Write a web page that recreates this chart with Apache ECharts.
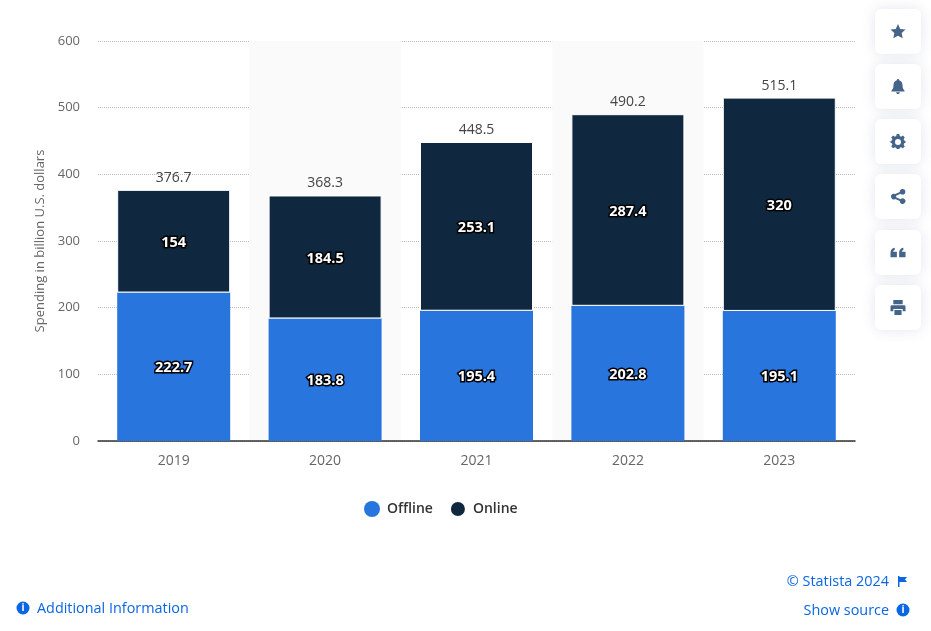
<!DOCTYPE html>
<html>
<head>
    <meta charset="utf-8">
    <script src="https://cdn.jsdelivr.net/npm/echarts@6/dist/echarts.min.js"></script>
    <style>
        html, body { margin: 0; padding: 0; background: #fff; }
        #container { width: 931px; height: 631px; }
    </style>
</head>
<body>
<div id="container"></div>
<script>
    var years = ['2019', '2020', '2021', '2022', '2023'];
    var offline = [222.7, 183.8, 195.4, 202.8, 195.1];
    var online = [154, 184.5, 253.1, 287.4, 320];
    var totals = [376.7, 368.3, 448.5, 490.2, 515.1];
    var yTicks = [0, 100, 200, 300, 400, 500, 600];

    var iconColor = '#45648a';
    var linkColor = '#0b66e4';
    var buttonTops = [9, 64, 119, 174, 230, 285];
    // icons drawn in a 16x16 box
    var icons = [
        'M8 0L10.4 5.2L16 5.9L11.9 9.7L13 15.3L8 12.5L3 15.3L4.1 9.7L0 5.9L5.6 5.2Z',
        'M8 0C8.7 0 9.2.5 9.2 1.2C11.6 1.8 12.8 3.8 12.8 6.4C12.8 9.6 13.6 11 15 12.4V13.2H1V12.4C2.4 11 3.2 9.6 3.2 6.4C3.2 3.8 4.4 1.8 6.8 1.2C6.8.5 7.3 0 8 0ZM6 14H10C10 15.2 9.1 16 8 16C6.9 16 6 15.2 6 14Z',
        'M6.6 0H9.4L9.9 2.2L11.3 2.8L13.3 1.6L15.2 3.6L14 5.5L14.6 7L16 7.4V9.4L14.6 9.9L14 11.3L15.2 13.3L13.2 15.2L11.3 14L9.9 14.6L9.4 16H6.6L6.1 14.6L4.7 14L2.7 15.2L.8 13.2L2 11.3L1.4 9.9L0 9.4V7.4L1.4 7L2 5.5L.8 3.6L2.8 1.6L4.7 2.8L6.1 2.2ZM8 5.2A3.2 3.2 0 1 0 8 11.6A3.2 3.2 0 1 0 8 5.2Z',
        'M12.8 0A3 3 0 1 1 10.7 5.1L6 7.3A3 3 0 0 1 6 8.7L10.7 10.9A3 3 0 1 1 9.9 12.9L5.1 10.6A3 3 0 1 1 5.1 5.4L9.9 3.1A3 3 0 0 1 12.8 0Z',
        'M0 8.5C0 5.5 1.5 3.5 4.5 3V5.2C3.4 5.5 2.9 6.2 2.8 7.2H6.8V13H0ZM9.2 8.5C9.2 5.5 10.7 3.5 13.7 3V5.2C12.6 5.5 12.1 6.2 12 7.2H16V13H9.2Z',
        'M3 0H13V4.5H3ZM1.5 5.5H14.5C15.4 5.5 16 6.1 16 7V12H13V9.5H3V12H0V7C0 6.1.6 5.5 1.5 5.5ZM4.2 10.7H11.8V16H4.2Z'
    ];
    var flagPath = 'M0 0H1.5V1H9L7 3.5L9 6H1.5V11H0Z';

    // graphic elements have no plain 'path' type, so register the icons as shapes
    icons.forEach(function (d, i) {
        echarts.graphic.registerShape('icon' + i, echarts.graphic.extendPath(d, {}));
    });
    echarts.graphic.registerShape('flag', echarts.graphic.extendPath(flagPath, {}));

    function infoIcon(cx, cy) {
        return [
            { type: 'circle', shape: { cx: cx, cy: cy, r: 6.5 }, style: { fill: linkColor } },
            { type: 'text', style: { x: cx, y: cy, text: 'i', align: 'center', verticalAlign: 'middle',
                fill: '#fff', font: 'bold 10px "Open Sans"' } }
        ];
    }

    var graphics = [];
    buttonTops.forEach(function (top, i) {
        graphics.push({
            type: 'rect',
            shape: { x: 875, y: top, width: 46, height: 45, r: 6 },
            style: { fill: '#fff', shadowBlur: 14, shadowColor: 'rgba(60,80,120,0.14)' }
        });
        graphics.push({
            type: 'icon' + i,
            x: 890.5,
            y: top + 15,
            scaleX: 15 / 16,
            scaleY: 15 / 16,
            style: { fill: iconColor }
        });
    });
    graphics.push({ type: 'text', style: { x: 889, y: 581.5, text: '© Statista 2024', align: 'right', verticalAlign: 'middle',
        fill: linkColor, font: '14.4px "Open Sans"' } });
    graphics.push({ type: 'flag', x: 898, y: 576, style: { fill: linkColor } });
    graphics.push({ type: 'text', style: { x: 889, y: 610.5, text: 'Show source', align: 'right', verticalAlign: 'middle',
        fill: linkColor, font: '14.4px "Open Sans"' } });
    graphics.push({ type: 'text', style: { x: 37, y: 608.5, text: 'Additional Information', align: 'left', verticalAlign: 'middle',
        fill: linkColor, font: '14.4px "Open Sans"' } });
    graphics = graphics.concat(infoIcon(903, 610), infoIcon(23, 608));

    var offlineLabel = {
        show: true,
        position: 'inside',
        offset: [0, 1],
        color: '#fff',
        fontFamily: 'Open Sans',
        fontSize: 14.5,
        fontWeight: 'bold',
        textBorderColor: '#000',
        textBorderWidth: 3
    };
    var onlineLabel = Object.assign({}, offlineLabel, { offset: [0, 1.5] });

    var myChart = echarts.init(document.getElementById('container'));
    var option = {
        animation: false,
        backgroundColor: '#fff',
        grid: { left: 98, right: 76, top: 41, bottom: 190 },
        legend: {
            data: ['Offline', 'Online'],
            top: 495,
            left: 359,
            icon: 'circle',
            itemWidth: 16,
            itemHeight: 16,
            itemGap: 16,
            textStyle: { color: '#333', fontFamily: 'Open Sans', fontSize: 14, fontWeight: 600, padding: [0, 0, 0, 2] }
        },
        xAxis: {
            type: 'category',
            data: years,
            axisTick: { show: false },
            axisLine: { lineStyle: { color: '#333', width: 1.5 } },
            axisLabel: { color: '#666', fontFamily: 'Open Sans', fontSize: 14, margin: 13 },
            splitArea: { show: true, areaStyle: { color: ['rgba(0,0,0,0)', '#fafafa'] } }
        },
        yAxis: {
            type: 'value',
            min: yTicks[0],
            max: yTicks[yTicks.length - 1],
            interval: 100,
            name: 'Spending in billion U.S. dollars',
            nameLocation: 'middle',
            nameGap: 51,
            nameTextStyle: { color: '#666', fontFamily: 'Open Sans', fontSize: 13 },
            axisLine: { show: false },
            axisTick: { show: false },
            axisLabel: { color: '#666', fontFamily: 'Open Sans', fontSize: 13, margin: 18, padding: [3, 0, 0, 0] },
            splitLine: { lineStyle: { color: '#bbb', type: [1, 1] } }
        },
        series: [
            {
                name: 'Offline',
                type: 'bar',
                stack: 'spend',
                data: offline,
                barWidth: 113,
                itemStyle: { color: '#2875dd' },
                label: offlineLabel
            },
            {
                name: 'Online',
                type: 'bar',
                stack: 'spend',
                data: online,
                barWidth: 113,
                itemStyle: { color: '#10283f', borderColor: '#fff', borderWidth: 1 },
                label: onlineLabel
            },
            {
                name: 'Total',
                type: 'line',
                data: totals,
                symbol: 'circle',
                symbolSize: 1,
                itemStyle: { color: 'rgba(0,0,0,0)' },
                lineStyle: { opacity: 0 },
                label: { show: true, position: 'top', distance: 4.5, color: '#444', fontFamily: 'Open Sans', fontSize: 14 }
            }
        ],
        graphic: { elements: graphics }
    };
    myChart.setOption(option);
</script>
</body>
</html>
